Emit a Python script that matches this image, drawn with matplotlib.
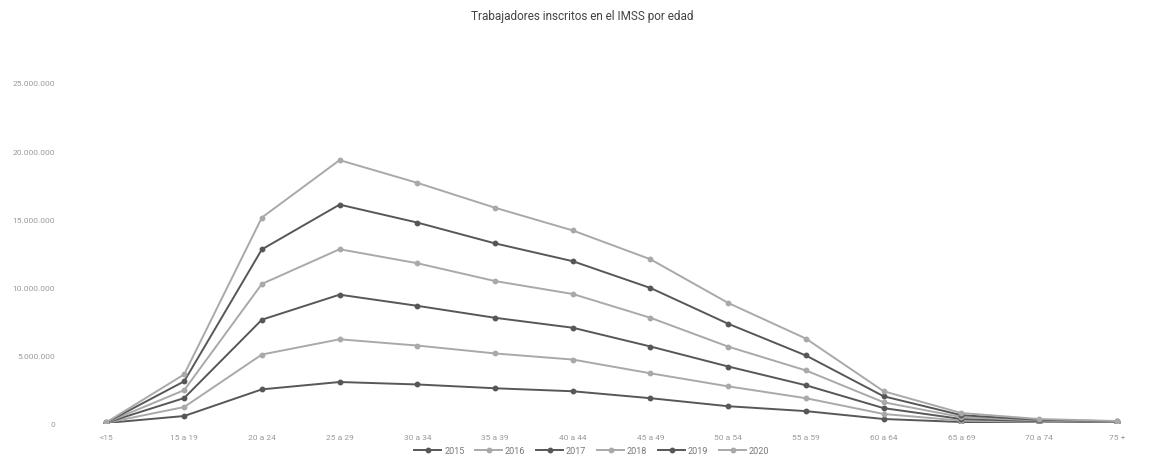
import matplotlib
matplotlib.use("Agg")
import matplotlib.pyplot as plt
from matplotlib.ticker import FuncFormatter
import numpy as np

plt.rcParams['font.family'] = ['Roboto', 'DejaVu Sans']

# age groups
edades = ["<15", "15 a 19", "20 a 24", "25 a 29", "30 a 34", "35 a 39", "40 a 44",
          "45 a 49", "50 a 54", "55 a 59", "60 a 64", "65 a 69", "70 a 74", "75 +"]

# workers per year (millions), stacked one on top of the other in the chart
y2015 = [0.01, 0.52, 2.48, 3.02, 2.84, 2.56, 2.34, 1.83, 1.24, 0.88, 0.30, 0.08, 0.04, 0.02]
y2016 = [0.01, 0.66, 2.56, 3.14, 2.86, 2.56, 2.33, 1.83, 1.46, 0.95, 0.37, 0.10, 0.05, 0.02]
y2017 = [0.01, 0.66, 2.56, 3.28, 2.92, 2.62, 2.34, 1.97, 1.46, 0.95, 0.43, 0.12, 0.05, 0.03]
y2018 = [0.01, 0.58, 2.63, 3.34, 3.13, 2.70, 2.48, 2.11, 1.46, 1.09, 0.43, 0.14, 0.05, 0.03]
y2019 = [0.01, 0.65, 2.54, 3.28, 2.99, 2.77, 2.41, 2.19, 1.68, 1.10, 0.44, 0.14, 0.05, 0.03]
y2020 = [0.01, 0.51, 2.34, 3.27, 2.92, 2.62, 2.26, 2.11, 1.53, 1.24, 0.37, 0.16, 0.06, 0.02]

years = ["2015", "2016", "2017", "2018", "2019", "2020"]
series = [y2015, y2016, y2017, y2018, y2019, y2020]
colores = ["#575757", "#a9a9a9", "#575757", "#a9a9a9", "#575757", "#a9a9a9"]

fig = plt.figure(figsize=(11.65, 4.64), dpi=100)
ax = fig.add_axes([0.058, 0.086, 0.934, 0.733])

x = np.arange(len(edades))
acum = np.zeros(len(edades))
for yr, vals, c in zip(years, series, colores):
    acum = acum + np.array(vals) * 1e6
    ax.plot(x, acum, color=c, lw=1.4, marker='o', ms=3.2, label=yr)

ax.set_xlim(-0.5, len(edades) - 0.5)
ax.set_ylim(0, 25e6)
ax.set_yticks(np.arange(0, 25e6 + 1, 5e6))
ax.yaxis.set_major_formatter(FuncFormatter(lambda v, p: f"{int(v):,}".replace(",", ".")))
ax.set_xticks(x)
ax.set_xticklabels(edades)
ax.tick_params(axis='both', length=0, labelsize=6, colors="#9a9a9a")
ax.tick_params(axis='y', pad=9)
ax.tick_params(axis='x', pad=8)
for s in ax.spines.values():
    s.set_visible(False)

fig.text(0.5, 0.965, "Trabajadores inscritos en el IMSS por edad", ha='center', va='center',
         fontsize=8.5, color="#444444")

fig.legend(loc='center', bbox_to_anchor=(0.508, 0.026), ncol=6, frameon=False,
           fontsize=6.5, labelcolor="#777777", handlelength=3, columnspacing=1.2,
           handletextpad=0.3)

fig.savefig("out.png", dpi=100)
